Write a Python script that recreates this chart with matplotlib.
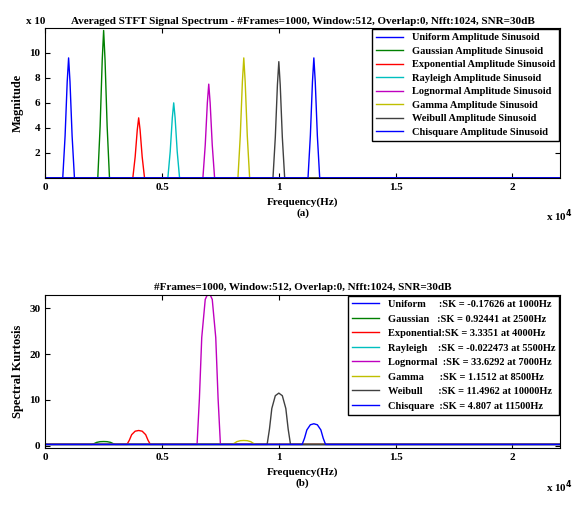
import numpy as np
import matplotlib.pyplot as plt

plt.rcParams['font.family'] = ['Liberation Serif', 'DejaVu Serif']
plt.rcParams['font.weight'] = 'bold'

names = ['Uniform', 'Gaussian', 'Exponential', 'Rayleigh', 'Lognormal', 'Gamma', 'Weibull', 'Chisquare']
colors = ['#0000ff', '#008000', '#ff0000', '#00bfbf', '#bf00bf', '#bfbf00', '#404040', '#0000ff']
centers = [1000, 2500, 4000, 5500, 7000, 8500, 10000, 11500]
mag_peaks = [9.6, 11.8, 4.8, 6.0, 7.5, 9.6, 9.3, 9.6]
sk_vals = [-0.17626, 0.92441, 3.3351, -0.022473, 33.6292, 1.1512, 11.4962, 4.807]
sk_labels = ['Uniform     :SK = -0.17626 at 1000Hz',
             'Gaussian   :SK = 0.92441 at 2500Hz',
             'Exponential:SK = 3.3351 at 4000Hz',
             'Rayleigh    :SK = -0.022473 at 5500Hz',
             'Lognormal  :SK = 33.6292 at 7000Hz',
             'Gamma      :SK = 1.1512 at 8500Hz',
             'Weibull      :SK = 11.4962 at 10000Hz',
             'Chisquare  :SK = 4.807 at 11500Hz']

# peak profile (offset in Hz, relative height)
spec_off = [-250, -150, -60, 0, 60, 150, 250]
spec_rel = [0, 0.35, 0.8, 1, 0.8, 0.35, 0]
sk_off = [-500, -400, -300, -150, 0, 150, 300, 400, 500]
sk_rel = [0, 0.3, 0.7, 0.95, 1, 0.95, 0.7, 0.3, 0]
fmax = 22050

fig = plt.figure(figsize=(5.8, 5.08), dpi=100)
ax1 = fig.add_axes([0.078, 0.65, 0.888, 0.295])
ax2 = fig.add_axes([0.078, 0.118, 0.888, 0.302])

for n, c, f0, h in zip(names, colors, centers, mag_peaks):
    x = [0] + [f0 + o for o in spec_off] + [fmax]
    y = [0] + [h * r for r in spec_rel] + [0]
    ax1.plot(x, y, color=c, lw=1, label=n + ' Amplitude Sinusoid')
ax1.set_xlim(0, fmax)
ax1.set_ylim(0, 12)
ax1.set_yticks([2, 4, 6, 8, 10])
ax1.set_xticks([0, 5000, 10000, 15000, 20000])
ax1.set_xticklabels(['0', '0.5', '1', '1.5', '2'])
ax1.set_ylabel('Magnitude', fontsize=9, fontweight='bold')
ax1.set_xlabel('Frequency(Hz)\n(a)', fontsize=8, fontweight='bold')
ax1.set_title('Averaged STFT Signal Spectrum - #Frames=1000, Window:512, Overlap:0, Nfft:1024, SNR=30dB',
              fontsize=8, fontweight='bold', pad=3)
ax1.text(0, 1.01, 'x 10', transform=ax1.transAxes, fontsize=8, ha='right', va='bottom')
ax1.text(1.025, -0.2, r'x 10$^4$', transform=ax1.transAxes, fontsize=8, ha='right', va='top')
ax1.legend(loc='upper right', fontsize=7.5, handlelength=2.6, borderaxespad=0.1,
           labelspacing=0.4, fancybox=False, edgecolor='black', framealpha=1)

for lab, c, f0, h in zip(sk_labels, colors, centers, sk_vals):
    base = 0.3
    x = [0] + [f0 + o for o in sk_off] + [fmax]
    y = [base] + [base + (h - base) * r if h > base else base for r in sk_rel] + [base]
    ax2.plot(x, y, color=c, lw=1, label=lab)
ax2.set_xlim(0, fmax)
ax2.set_ylim(-0.5, 33)
ax2.set_yticks([0, 10, 20, 30])
ax2.set_xticks([0, 5000, 10000, 15000, 20000])
ax2.set_xticklabels(['0', '0.5', '1', '1.5', '2'])
ax2.set_ylabel('Spectral Kurtosis', fontsize=9, fontweight='bold')
ax2.set_xlabel('Frequency(Hz)\n(b)', fontsize=8, fontweight='bold')
ax2.set_title('#Frames=1000, Window:512, Overlap:0, Nfft:1024, SNR=30dB', fontsize=8, fontweight='bold', pad=3)
ax2.text(1.025, -0.2, r'x 10$^4$', transform=ax2.transAxes, fontsize=8, ha='right', va='top')
ax2.legend(loc='upper right', fontsize=7.5, handlelength=2.6, borderaxespad=0.1,
           labelspacing=0.5, fancybox=False, edgecolor='black', framealpha=1)

for ax in (ax1, ax2):
    ax.tick_params(labelsize=8, direction='in', top=True, right=True)

fig.savefig('out.png', dpi=100)
